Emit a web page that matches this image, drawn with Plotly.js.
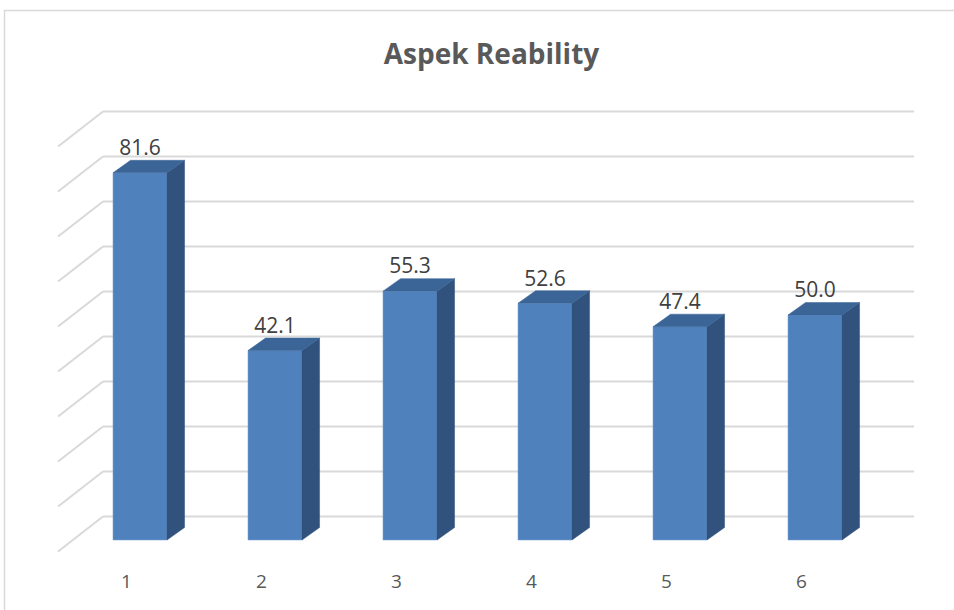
<!DOCTYPE html>
<html>
<head>
<meta charset="utf-8">
<script src="https://cdn.plot.ly/plotly-3.0.1.min.js"></script>
<style>
  html, body { margin: 0; padding: 0; background: #ffffff; }
  #chart { width: 954px; height: 610px; }
</style>
</head>
<body>
<div id="chart"></div>
<script>
// Aspek Reability — six categories, percentage scores
const categories = ['1', '2', '3', '4', '5', '6'];
const scores = [81.6, 42.1, 55.3, 52.6, 47.4, 50.0];
const gridValues = [0, 10, 20, 30, 40, 50, 60, 70, 80, 90];

// Pseudo-3D geometry (in axis units)
const barHalf = 0.2;        // half width of the front face
const depthX = 0.13;        // bar depth offset, x
const depthY = 2.78;        // bar depth offset, y
const wallShiftY = 5.22;    // back wall sits above the front plane
const wallLeft = 0.726, wallRight = 6.733, floorLeft = 0.393, floorDrop = 7.78;
const labelShift = 0.1;     // category labels sit slightly left of bar fronts

const FRONT = '#4F81BD', SIDE = '#30527C', TOP = '#3B6497';
const GRID = '#D9D9D9';

const xs = categories.map((c, i) => i + 1);
const traces = [];

// Back wall + left wall gridlines, kept underneath the bars
const gridShapes = [];
gridValues.forEach(v => {
  const yb = v + wallShiftY;
  gridShapes.push({
    type: 'line', xref: 'x', yref: 'y', layer: 'below',
    x0: floorLeft, y0: yb - floorDrop, x1: wallLeft, y1: yb,
    line: { color: GRID, width: 2 }
  });
  gridShapes.push({
    type: 'line', xref: 'x', yref: 'y', layer: 'below',
    x0: wallLeft, y0: yb, x1: wallRight, y1: yb,
    line: { color: GRID, width: 2 }
  });
});

// Front faces
traces.push({
  type: 'bar', x: xs, y: scores, width: 2 * barHalf,
  marker: { color: FRONT, line: { color: 'rgba(120,160,215,0.55)', width: 1 } },
  hoverinfo: 'skip', showlegend: false
});

// Side and top faces built from each score
scores.forEach((v, i) => {
  const x = xs[i];
  traces.push({
    type: 'scatter', mode: 'lines', fill: 'toself', fillcolor: SIDE,
    x: [x + barHalf, x + barHalf + depthX, x + barHalf + depthX, x + barHalf, x + barHalf],
    y: [0, depthY, v + depthY, v, 0],
    line: { color: SIDE, width: 0.5 }, hoverinfo: 'skip', showlegend: false
  });
  traces.push({
    type: 'scatter', mode: 'lines', fill: 'toself', fillcolor: TOP,
    x: [x - barHalf, x - barHalf + depthX, x + barHalf + depthX, x + barHalf, x - barHalf],
    y: [v, v + depthY, v + depthY, v, v],
    line: { color: TOP, width: 0.5 }, hoverinfo: 'skip', showlegend: false
  });
});

// Value labels above each bar
traces.push({
  type: 'scatter', mode: 'text',
  x: xs, y: scores.map(v => v + depthY),
  text: scores.map(v => v.toFixed(1)),
  textposition: 'top center',
  textfont: { family: 'Open Sans', size: 21, color: '#404040' },
  hoverinfo: 'skip', showlegend: false
});

const layout = {
  width: 954, height: 610,
  margin: { l: 0, r: 0, t: 0, b: 48, pad: 0 },
  paper_bgcolor: '#ffffff', plot_bgcolor: 'rgba(0,0,0,0)',
  showlegend: false,
  title: {
    text: 'Aspek Reability',
    font: { family: 'Open Sans', size: 28, color: '#595959', weight: 700 },
    xref: 'container', yref: 'container',
    x: 0.5152, xanchor: 'center', y: 1 - 54 / 610, yanchor: 'middle'
  },
  xaxis: {
    range: [-0.03704, 7.02963],
    tickmode: 'array',
    tickvals: xs.map(x => x - labelShift),
    ticktext: categories,
    tickfont: { family: 'Open Sans', size: 19, color: '#595959' },
    ticklabelstandoff: 6,
    showgrid: false, zeroline: false, showline: false, ticks: '',
    fixedrange: true
  },
  yaxis: {
    range: [-4.889, 120],
    showgrid: false, zeroline: false, showline: false,
    showticklabels: false, ticks: '', fixedrange: true
  },
  shapes: [{
    type: 'rect', xref: 'paper', yref: 'paper',
    x0: 4.5 / 954, x1: 1.2, y0: -0.3, y1: 1 - 10.5 / 562,
    line: { color: GRID, width: 1.5 }, fillcolor: 'rgba(0,0,0,0)', layer: 'below'
  }].concat(gridShapes),
  hovermode: false
};

Plotly.newPlot('chart', traces, layout, { displayModeBar: false, staticPlot: true });
</script>
</body>
</html>
